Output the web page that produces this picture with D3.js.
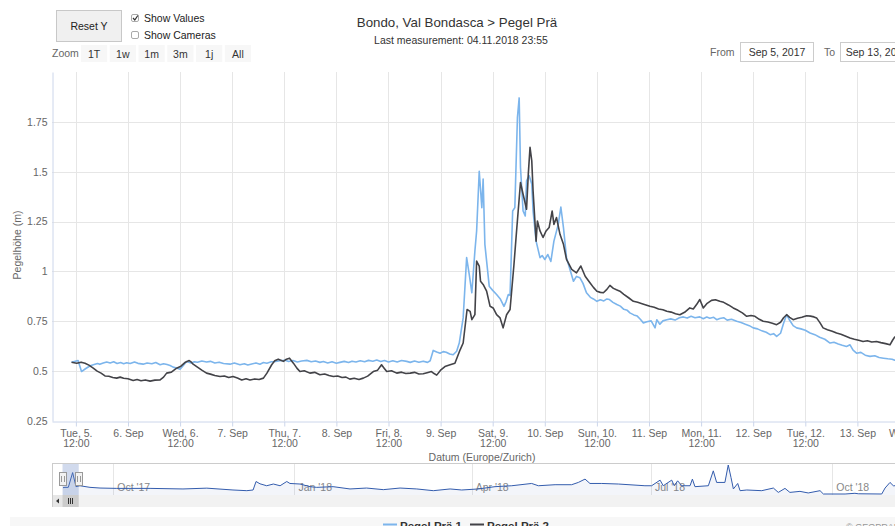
<!DOCTYPE html>
<html>
<head>
<meta charset="utf-8">
<script src="https://cdn.jsdelivr.net/npm/d3@7"></script>
<style>
body { margin: 0; background: #fff; }
svg { display: block; font-family: "Liberation Sans", Arial, sans-serif; }
</style>
</head>
<body>
<script>
// Pegel Prä 1 (hours since 5 Sep 2017 00:00, level in m)
var p1Hours = [11.0, 12.5, 13.3, 14.2, 15.3, 16.2, 17.0, 17.5, 18.3, 19.1, 19.9, 20.7, 21.5, 22.3, 23.0, 23.7, 24.5, 25.5, 26.3, 27.5,
    28.4, 29.5, 30.4, 31.4, 32.2, 33.0, 33.7, 34.4, 35.2, 36.0, 36.6, 37.5, 38.5, 39.3, 40.0, 41.0, 42.1, 43.0, 44.0, 45.0,
    46.0, 47.5, 48.5, 49.8, 50.8, 51.6, 52.5, 53.5, 54.4, 55.2, 56.0, 57.0, 58.0, 59.0, 60.2, 61.0, 62.0, 63.0, 64.0, 65.2,
    66.2, 67.2, 68.2, 69.0, 70.0, 71.0, 72.0, 72.8, 73.8, 74.8, 75.6, 76.5, 77.5, 78.5, 79.4, 80.4, 81.3, 82.2, 83.1, 84.0,
    85.0, 86.0, 87.0, 88.2, 89.0, 90.0, 91.0, 92.0, 93.0, 93.6, 94.3, 95.1, 95.9, 96.6, 97.3, 98.1, 98.9, 99.7, 100.3, 101.2,
    102.0, 102.6, 103.2, 103.9, 104.3, 104.9, 105.5, 105.8, 106.2, 107.2, 108.0, 108.9, 109.8, 110.6, 111.1, 111.6, 112.0, 112.6, 113.1, 113.7,
    114.1, 114.4, 115.0, 115.5, 115.8, 116.4, 117.0, 117.3, 118.0, 118.9, 119.4, 120.0, 120.7, 121.4, 122.1, 123.1, 123.7, 124.3, 125.0, 125.8,
    126.6, 127.3, 128.1, 128.8, 129.6, 130.5, 131.2, 132.0, 132.8, 133.6, 134.3, 134.9, 135.7, 136.6, 137.4, 138.2, 139.0, 139.6, 140.5, 141.3,
    142.0, 142.7, 143.5, 144.5, 145.4, 145.8, 146.5, 147.2, 148.1, 149.0, 150.0, 151.0, 151.9, 152.8, 153.7, 154.6, 155.7, 156.5, 157.3, 158.0,
    158.9, 159.6, 160.3, 161.2, 162.0, 163.0, 164.2, 165.2, 166.2, 167.1, 168.0, 169.0, 170.0, 171.0, 171.9, 172.7, 173.4, 174.3, 175.0, 175.7,
    176.4, 177.2, 178.0, 179.0, 180.0, 181.1, 182.2, 183.3, 184.5, 185.7, 186.6, 187.6, 188.5, 189.5, 190.3, 191.0, 191.8, 192.8, 193.8, 194.9,
    196.0, 197.0, 198.0, 199.0, 200.0, 200.6, 201.5, 202.5, 204.0];
var p1Level = [0.545, 0.553, 0.498, 0.512, 0.527, 0.533, 0.538, 0.534, 0.541, 0.546, 0.541, 0.547, 0.538, 0.543, 0.537, 0.542, 0.538, 0.546, 0.539, 0.535,
    0.541, 0.537, 0.543, 0.532, 0.537, 0.533, 0.528, 0.520, 0.516, 0.510, 0.525, 0.548, 0.541, 0.547, 0.545, 0.551, 0.546, 0.549, 0.541, 0.545,
    0.538, 0.535, 0.541, 0.532, 0.537, 0.531, 0.536, 0.541, 0.535, 0.543, 0.540, 0.547, 0.548, 0.552, 0.555, 0.548, 0.553, 0.546, 0.551, 0.554,
    0.547, 0.551, 0.544, 0.548, 0.541, 0.547, 0.540, 0.544, 0.549, 0.543, 0.550, 0.546, 0.552, 0.547, 0.554, 0.550, 0.556, 0.548, 0.553, 0.546,
    0.552, 0.546, 0.553, 0.549, 0.544, 0.551, 0.545, 0.550, 0.544, 0.552, 0.604, 0.596, 0.590, 0.598, 0.595, 0.586, 0.582, 0.600, 0.641, 0.767,
    1.069, 0.985, 0.893, 1.102, 1.203, 1.502, 1.320, 1.463, 1.136, 0.926, 0.905, 0.884, 0.860, 0.825, 0.850, 0.884, 0.880, 1.303, 1.320, 1.773,
    1.870, 1.522, 1.303, 1.278, 1.454, 1.480, 1.438, 1.303, 1.152, 1.069, 1.080, 1.060, 1.085, 1.050, 1.152, 1.236, 1.323, 1.220, 1.069, 1.010,
    0.951, 0.975, 0.968, 0.940, 0.893, 0.870, 0.862, 0.850, 0.858, 0.852, 0.862, 0.859, 0.845, 0.834, 0.826, 0.810, 0.805, 0.792, 0.782, 0.776,
    0.760, 0.742, 0.748, 0.752, 0.717, 0.758, 0.735, 0.752, 0.758, 0.762, 0.756, 0.768, 0.772, 0.766, 0.775, 0.768, 0.772, 0.763, 0.771, 0.765,
    0.770, 0.758, 0.764, 0.768, 0.756, 0.760, 0.750, 0.744, 0.735, 0.728, 0.717, 0.712, 0.702, 0.695, 0.683, 0.688, 0.674, 0.690, 0.740, 0.783,
    0.755, 0.728, 0.717, 0.712, 0.705, 0.691, 0.683, 0.670, 0.660, 0.641, 0.645, 0.636, 0.630, 0.624, 0.632, 0.605, 0.590, 0.594, 0.580, 0.574,
    0.577, 0.568, 0.565, 0.562, 0.560, 0.555, 0.558, 0.552, 0.550];

// Pegel Prä 2
var p2Hours = [11.0, 12.2, 13.2, 14.1, 15.0, 16.0, 16.9, 17.8, 18.7, 19.6, 20.5, 21.4, 22.2, 23.0, 24.0, 25.2, 26.1, 27.0, 28.0, 29.1,
    30.2, 31.4, 32.2, 32.9, 34.0, 35.2, 36.2, 37.1, 38.1, 38.6, 39.0, 40.0, 41.0, 42.1, 43.0, 44.0, 45.2, 46.2, 47.2, 48.2,
    49.2, 50.2, 51.2, 52.1, 53.2, 54.2, 55.2, 56.0, 57.1, 57.8, 58.6, 59.2, 59.8, 60.5, 61.2, 62.1, 62.9, 63.6, 64.6, 65.9,
    67.0, 68.2, 69.3, 70.3, 71.3, 72.3, 73.3, 74.2, 75.1, 76.1, 77.2, 78.2, 79.2, 80.5, 81.5, 82.4, 83.0, 83.6, 84.7, 85.9,
    87.0, 88.0, 89.0, 90.0, 91.0, 92.0, 92.9, 93.9, 94.5, 95.1, 96.0, 97.0, 98.2, 99.3, 100.5, 101.2, 102.1, 102.8, 103.2, 103.9,
    104.3, 104.9, 105.2, 105.8, 106.6, 107.4, 108.1, 108.9, 109.7, 110.4, 111.2, 112.0, 112.9, 113.5, 114.4, 115.0, 115.8, 116.2, 116.6, 117.0,
    117.3, 118.0, 118.3, 118.9, 119.6, 120.3, 121.0, 121.7, 122.1, 122.7, 123.5, 124.3, 125.0, 126.2, 127.3, 128.3, 129.3, 130.4, 131.2, 132.0,
    132.8, 133.5, 134.3, 135.0, 135.8, 136.5, 137.3, 138.2, 139.3, 140.4, 141.4, 142.4, 143.3, 144.2, 145.2, 146.2, 147.2, 148.1, 149.1, 150.1,
    151.1, 152.2, 153.4, 154.2, 155.0, 155.7, 156.5, 157.4, 158.4, 159.3, 160.3, 161.2, 162.3, 163.4, 164.5, 165.5, 166.5, 167.5, 168.4, 169.4,
    170.3, 171.4, 172.4, 173.4, 174.3, 175.0, 175.7, 176.4, 177.2, 178.2, 179.2, 180.3, 181.2, 182.0, 182.6, 183.4, 184.1, 185.1, 186.2, 187.2,
    188.2, 189.2, 190.3, 191.3, 192.3, 193.3, 194.3, 195.3, 196.4, 197.4, 198.5, 199.5, 200.1, 200.6, 202.0, 204.0];
var p2Level = [0.545, 0.540, 0.545, 0.540, 0.530, 0.515, 0.500, 0.490, 0.476, 0.474, 0.468, 0.465, 0.470, 0.464, 0.462, 0.453, 0.458, 0.452, 0.456, 0.450,
    0.455, 0.456, 0.470, 0.490, 0.495, 0.515, 0.525, 0.543, 0.553, 0.545, 0.535, 0.520, 0.505, 0.490, 0.485, 0.478, 0.473, 0.476, 0.468, 0.473,
    0.466, 0.456, 0.462, 0.456, 0.461, 0.458, 0.465, 0.490, 0.532, 0.552, 0.560, 0.555, 0.549, 0.560, 0.565, 0.540, 0.515, 0.498, 0.502, 0.490,
    0.494, 0.482, 0.486, 0.478, 0.473, 0.476, 0.468, 0.470, 0.460, 0.464, 0.458, 0.465, 0.475, 0.498, 0.505, 0.532, 0.515, 0.498, 0.502, 0.490,
    0.495, 0.488, 0.490, 0.494, 0.486, 0.487, 0.492, 0.498, 0.488, 0.480, 0.505, 0.523, 0.532, 0.540, 0.607, 0.641, 0.809, 0.800, 0.758, 0.783,
    1.052, 1.027, 0.951, 0.935, 0.901, 0.825, 0.817, 0.783, 0.767, 0.717, 0.783, 0.809, 1.035, 1.203, 1.446, 1.387, 1.312, 1.488, 1.622, 1.555,
    1.404, 1.152, 1.253, 1.203, 1.170, 1.203, 1.220, 1.303, 1.236, 1.270, 1.186, 1.136, 1.060, 1.010, 0.993, 1.027, 0.976, 0.943, 0.920, 0.901,
    0.895, 0.893, 0.910, 0.930, 0.915, 0.908, 0.901, 0.885, 0.868, 0.850, 0.845, 0.838, 0.832, 0.825, 0.820, 0.812, 0.808, 0.800, 0.796, 0.788,
    0.783, 0.795, 0.817, 0.812, 0.835, 0.859, 0.817, 0.840, 0.855, 0.858, 0.850, 0.845, 0.832, 0.817, 0.805, 0.792, 0.775, 0.779, 0.775, 0.760,
    0.750, 0.746, 0.740, 0.733, 0.745, 0.768, 0.783, 0.770, 0.758, 0.765, 0.770, 0.778, 0.776, 0.772, 0.767, 0.742, 0.717, 0.708, 0.700, 0.691,
    0.685, 0.676, 0.666, 0.660, 0.655, 0.649, 0.652, 0.646, 0.649, 0.643, 0.638, 0.632, 0.655, 0.671, 0.675, 0.680];

// navigator: whole record (days since 5 Sep 2017)
var navDays = [0.5, 1.5, 3.2, 5.4, 7.1, 9.1, 14.2, 19.3, 27.8, 44.7, 61.4, 73.5, 86.8, 93.8, 97.0, 98.5, 100.5, 103.9, 107.3, 110.7,
    114.1, 115.7, 120.8, 125.9, 129.3, 137.6, 146.2, 154.6, 163.1, 171.6, 180.1, 188.5, 197.0, 202.9, 211.3, 219.8, 228.3, 238.4, 241.8, 250.3,
    258.7, 262.1, 265.5, 268.0, 274.0, 282.4, 295.9, 299.3, 303.6, 305.2, 309.5, 310.8, 312.5, 314.6, 318.8, 320.0, 321.3, 328.1, 330.6, 332.3,
    336.5, 338.2, 339.6, 340.8, 343.0, 344.2, 347.6, 355.2, 361.1, 363.6, 367.0, 369.5, 374.6, 378.8, 384.8, 386.5, 397.5, 402.5, 404.2, 416.1,
    417.8, 420.3, 422.0, 426.0];
var navLevel = [0.55, 0.58, 0.58, 1.87, 0.64, 0.72, 0.58, 0.52, 0.49, 0.49, 0.44, 0.51, 0.35, 0.29, 0.35, 1.09, 0.89, 0.72, 0.87, 0.72,
    1.09, 0.92, 0.87, 0.64, 0.58, 0.64, 0.44, 0.52, 0.38, 0.52, 0.44, 0.29, 0.44, 0.35, 0.44, 0.64, 0.72, 0.92, 0.72, 0.81,
    0.81, 1.01, 1.30, 0.92, 0.92, 0.87, 0.72, 0.72, 1.21, 0.72, 1.21, 0.72, 1.15, 0.72, 0.72, 1.30, 0.64, 0.72, 2.02, 1.01,
    1.01, 2.53, 1.44, 0.44, 0.92, 0.29, 0.35, 0.29, 0.52, 0.14, 0.49, 0.14, 0.23, 0.09, 0.29, 0.0, 0.0, 0.06, 0.02, 0.0,
    0.52, 1.01, 0.72, 0.72];

var yTicks = [0.25, 0.5, 0.75, 1, 1.25, 1.5, 1.75];
var zoomButtons = ['1T', '1w', '1m', '3m', '1j', 'All'];
var seriesNames = ['Pegel Prä 1', 'Pegel Prä 2'];
var colors = ['#7cb5ec', '#434348'];

var width = 895, height = 526;
var t0 = new Date(2017, 8, 5);
function atHour(h) { return new Date(+t0 + h * 36e5); }
function atDay(d) { return new Date(+t0 + d * 864e5); }

var svg = d3.select('body').append('svg')
    .attr('width', width)
    .attr('height', height);

var x = d3.scaleTime()
    .domain([atHour(6.5), atHour(204)])
    .range([52, 909.5]);

var y = d3.scaleLinear()
    .domain([0.25, 2.0])
    .range([421, 72]);

// ---- header ----
svg.append('text')
    .attr('x', 457).attr('y', 27)
    .attr('text-anchor', 'middle')
    .style('font-size', '13.3px').style('fill', '#333')
    .text('Bondo, Val Bondasca > Pegel Prä');

svg.append('text')
    .attr('x', 461).attr('y', 44)
    .attr('text-anchor', 'middle')
    .style('font-size', '10.5px').style('fill', '#333')
    .text('Last measurement: 04.11.2018 23:55');

svg.append('rect')
    .attr('x', 56.5).attr('y', 10.5).attr('width', 65).attr('height', 31)
    .attr('fill', '#f0f0f0').attr('stroke', '#c8c8c8');
svg.append('text')
    .attr('x', 89).attr('y', 30).attr('text-anchor', 'middle')
    .style('font-size', '10.5px').style('fill', '#222')
    .text('Reset Y');

[['Show Values', 18, true], ['Show Cameras', 35, false]].forEach(function(c) {
    svg.append('rect')
        .attr('x', 131.5).attr('y', c[1] - 3.5).attr('width', 7).attr('height', 7)
        .attr('rx', 1.5)
        .attr('fill', '#fff').attr('stroke', '#aaa');
    if (c[2]) {
        svg.append('path')
            .attr('d', 'M133,' + (c[1]) + ' l1.8,2 l3,-4.5')
            .attr('fill', 'none').attr('stroke', '#333').attr('stroke-width', 1.2);
    }
    svg.append('text')
        .attr('x', 144).attr('y', c[1] + 3.5)
        .style('font-size', '10.5px').style('fill', '#222')
        .text(c[0]);
});

svg.append('text')
    .attr('x', 52).attr('y', 57)
    .style('font-size', '10.5px').style('fill', '#666')
    .text('Zoom');

var bx = d3.scaleBand()
    .domain(zoomButtons)
    .range([81, 251])
    .paddingInner(0.09);

var btn = svg.append('g').selectAll('g')
    .data(zoomButtons).enter()
    .append('g')
    .attr('transform', d => 'translate(' + bx(d) + ',45)');
btn.append('rect')
    .attr('width', bx.bandwidth()).attr('height', 17)
    .attr('fill', '#f7f7f7');
btn.append('text')
    .attr('x', bx.bandwidth() / 2).attr('y', 12.5)
    .attr('text-anchor', 'middle')
    .style('font-size', '10.5px').style('fill', '#333')
    .text(d => d);

[['From', 710, 740, 'Sep 5, 2017'], ['To', 824, 840, 'Sep 13, 2017']].forEach(function(r) {
    svg.append('text')
        .attr('x', r[1]).attr('y', 56)
        .style('font-size', '10.5px').style('fill', '#666')
        .text(r[0]);
    svg.append('rect')
        .attr('x', r[2] + 0.5).attr('y', 42.5).attr('width', 73).attr('height', 19)
        .attr('fill', '#fff').attr('stroke', '#ccc');
    svg.append('text')
        .attr('x', r[2] + 37).attr('y', 56)
        .attr('text-anchor', 'middle')
        .style('font-size', '10.5px').style('fill', '#333')
        .text(r[3]);
});

// ---- main plot ----
var xTicks = d3.range(12, 205, 12).map(atHour);

var grid = svg.append('g');
grid.selectAll('line.h')
    .data(yTicks.slice(1)).enter()
    .append('line')
    .attr('x1', 52).attr('x2', 910)
    .attr('y1', d => Math.round(y(d)) + 0.5).attr('y2', d => Math.round(y(d)) + 0.5)
    .attr('stroke', '#e6e6e6');
grid.selectAll('line.v')
    .data(xTicks).enter()
    .append('line')
    .attr('x1', d => Math.round(x(d)) + 0.5).attr('x2', d => Math.round(x(d)) + 0.5)
    .attr('y1', 72).attr('y2', 421)
    .attr('stroke', '#e6e6e6');

var fmtDay = d3.timeFormat('%a, %-d.'),
    fmtDate = d3.timeFormat('%-d. %b');

var gx = svg.append('g')
    .attr('transform', 'translate(0,421.5)')
    .call(d3.axisBottom(x).tickValues(xTicks).tickSize(5).tickSizeOuter(0));
gx.select('.domain').attr('stroke', '#ccd6eb');
gx.selectAll('.tick line').attr('stroke', '#ccd6eb');
gx.selectAll('.tick text')
    .style('font-size', '10.5px').style('fill', '#666')
    .style('font-family', '"Liberation Sans", Arial, sans-serif')
    .each(function(d) {
        var lines = d.getHours() === 12 ? [fmtDay(d), '12:00'] : [fmtDate(d)];
        var t = d3.select(this).text(null);
        lines.forEach(function(s, i) {
            t.append('tspan').attr('x', 0).attr('dy', i ? '1em' : '0.71em').text(s);
        });
    });

var gy = svg.append('g')
    .attr('transform', 'translate(52.5,0)')
    .call(d3.axisLeft(y).tickValues(yTicks).tickFormat(d3.format('')).tickSize(0).tickPadding(5));
gy.select('.domain').attr('stroke', '#ccd6eb');
gy.selectAll('.tick text')
    .style('font-size', '10.5px').style('fill', '#666')
    .style('font-family', '"Liberation Sans", Arial, sans-serif');

svg.append('text')
    .attr('transform', 'translate(21,245) rotate(-90)')
    .attr('text-anchor', 'middle')
    .style('font-size', '10.5px').style('fill', '#666')
    .text('Pegelhöhe (m)');

svg.append('text')
    .attr('x', 482).attr('y', 461)
    .attr('text-anchor', 'middle')
    .style('font-size', '10.5px').style('fill', '#666')
    .text('Datum (Europe/Zurich)');

svg.append('clipPath').attr('id', 'plot-clip')
    .append('rect').attr('x', 53).attr('y', 72).attr('width', 860).attr('height', 349);

var line = d3.line()
    .x(d => x(d[0]))
    .y(d => y(d[1]));

var series = [
    d3.zip(p1Hours.map(atHour), p1Level),
    d3.zip(p2Hours.map(atHour), p2Level)
];

svg.append('g')
    .attr('clip-path', 'url(#plot-clip)')
    .selectAll('path')
    .data(series).enter()
    .append('path')
    .attr('d', line)
    .attr('fill', 'none')
    .attr('stroke', (d, i) => colors[i])
    .attr('stroke-width', 1.6)
    .attr('stroke-linejoin', 'round');

// ---- navigator ----
var nx = d3.scaleTime()
    .domain([atDay(0), atDay(426)])
    .range([62, 62 + 426 * 1.97]);
var navData = d3.zip(navDays.map(atDay), navLevel);
var ny = d3.scaleLinear()
    .domain(d3.extent(navLevel))
    .range([494, 465]);

var nav = svg.append('g');
var navTicks = d3.timeMonth.every(3).range(new Date(2017, 9, 1), new Date(2018, 10, 1));

nav.selectAll('line.g')
    .data(navTicks).enter()
    .append('line')
    .attr('x1', d => Math.round(nx(d)) + 0.5).attr('x2', d => Math.round(nx(d)) + 0.5)
    .attr('y1', 464).attr('y2', 495)
    .attr('stroke', '#e6e6e6');

nav.selectAll('text')
    .data(navTicks).enter()
    .append('text')
    .attr('x', d => nx(d) + 4).attr('y', 491)
    .style('font-size', '10.5px').style('fill', '#888')
    .text(d3.timeFormat("%b '%y"));

nav.append('path')
    .datum(navData)
    .attr('d', d3.area().x(d => nx(d[0])).y0(495).y1(d => ny(d[1])))
    .attr('fill', '#335cad').attr('fill-opacity', 0.06);
nav.append('path')
    .datum(navData)
    .attr('d', d3.line().x(d => nx(d[0])).y(d => ny(d[1])))
    .attr('fill', 'none').attr('stroke', '#335cad').attr('stroke-width', 1);

nav.append('line')
    .attr('x1', 52).attr('x2', 895).attr('y1', 463.5).attr('y2', 463.5)
    .attr('stroke', '#ccc');
nav.append('line')
    .attr('x1', 52.5).attr('x2', 52.5).attr('y1', 463.5).attr('y2', 507)
    .attr('stroke', '#ccc');

var m0 = x.domain()[0], m1 = x.domain()[1];
nav.append('rect')
    .attr('x', nx(m0)).attr('y', 464)
    .attr('width', nx(m1) - nx(m0)).attr('height', 31)
    .attr('fill', 'rgba(102,133,194,0.3)');

[m0, m1].forEach(function(d) {
    var hx = Math.round(nx(d));
    nav.append('rect')
        .attr('x', hx - 3.5).attr('y', 472.5).attr('width', 7).attr('height', 13)
        .attr('fill', '#f2f2f2').attr('stroke', '#999');
    nav.append('path')
        .attr('d', 'M' + (hx - 1.5) + ',476V482M' + (hx + 1.5) + ',476V482')
        .attr('stroke', '#999');
});

// scrollbar
nav.append('rect')
    .attr('x', 53).attr('y', 495).attr('width', 842).attr('height', 12)
    .attr('fill', '#f2f2f2');
nav.append('rect')
    .attr('x', 53).attr('y', 495).attr('width', 10).attr('height', 12)
    .attr('fill', '#e6e6e6');
nav.append('path')
    .attr('d', 'M59,498.5 L56,501 L59,503.5 Z')
    .attr('fill', '#333');
nav.append('rect')
    .attr('x', nx(m0)).attr('y', 495)
    .attr('width', nx(m1) - nx(m0)).attr('height', 12)
    .attr('fill', '#cccccc');
nav.append('path')
    .attr('d', 'M68.5,498V504M70.5,498V504M72.5,498V504')
    .attr('stroke', '#333');

// ---- legend ----
svg.append('rect')
    .attr('x', 10).attr('y', 517).attr('width', 885).attr('height', 9)
    .attr('fill', '#f7f7f7');

var lg = svg.append('g').selectAll('g')
    .data(seriesNames).enter()
    .append('g')
    .attr('transform', (d, i) => 'translate(' + [383, 470][i] + ',0)');
lg.append('line')
    .attr('x1', 0).attr('x2', 14).attr('y1', 524.5).attr('y2', 524.5)
    .attr('stroke', (d, i) => colors[i]).attr('stroke-width', 2);
lg.append('text')
    .attr('x', 17).attr('y', 530)
    .style('font-size', '11.5px').style('font-weight', 'bold').style('fill', '#333')
    .text(d => d);

svg.append('text')
    .attr('x', 846).attr('y', 530)
    .style('font-size', '9px').style('fill', '#999')
    .text('© GEOPRAEVENT');
</script>
</body>
</html>
